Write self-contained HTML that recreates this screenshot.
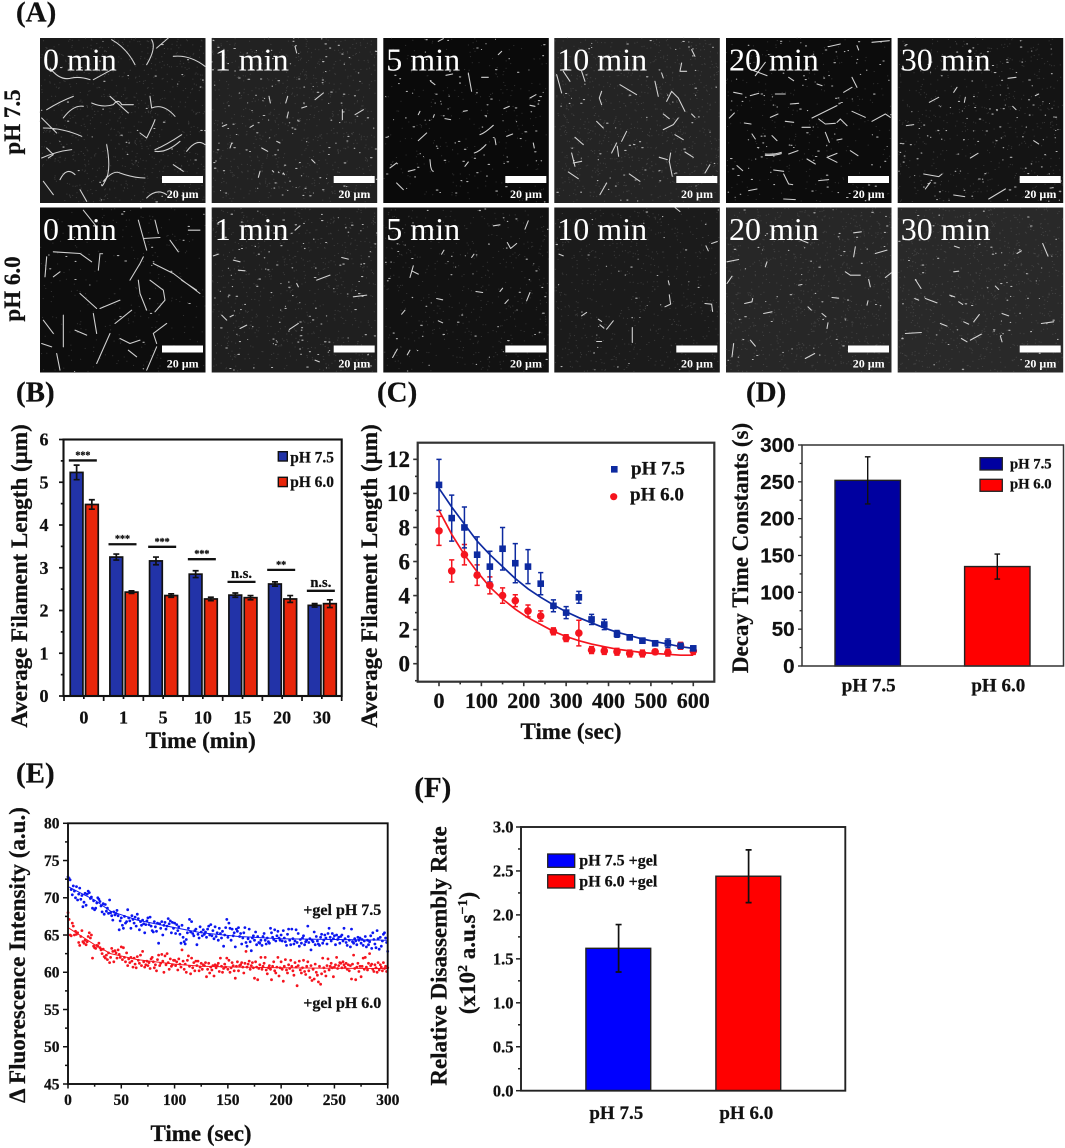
<!DOCTYPE html>
<html lang="en">
<head>
<meta charset="utf-8">
<title>Filament disassembly figure</title>
<style>
html,body{margin:0;padding:0;background:#fff;width:1065px;height:1148px;overflow:hidden}
svg{display:block;filter:blur(.35px)}
text{font-family:"Liberation Serif","DejaVu Serif",serif;font-weight:700;fill:#111;stroke:#111;stroke-width:.25px}
.letter{font-size:29px}
.title{font-size:23px}
.tl{font-size:32px;font-weight:400;fill:#fff;stroke:none}
.sb{font-size:12px;fill:#fff;stroke:none;text-anchor:middle}
.fil{fill:none;stroke:#e8e8e8;stroke-width:3.2;stroke-linecap:round;stroke-linejoin:round;stroke-opacity:.9}
</style>
</head>
<body>
<svg id="fig" xmlns="http://www.w3.org/2000/svg" width="1065" height="1148" viewBox="0 0 1065 1148">
<rect width="1065" height="1148" fill="#fff"/>

<text class="letter" x="16" y="21.5">(A)</text>
<text class="letter" x="16" y="401.5">(B)</text>
<text class="letter" x="377" y="401.5">(C)</text>
<text class="letter" x="746" y="401.5">(D)</text>
<text class="letter" x="16" y="782.7">(E)</text>
<text class="letter" x="414.3" y="797">(F)</text>

<text font-size="23" text-anchor="middle" transform="translate(20,122) rotate(-90)">pH 7.5</text>
<text font-size="23" text-anchor="middle" transform="translate(20,289) rotate(-90)">pH 6.0</text>

<!-- Micrographs, row 1 -->
<g class="mg" data-bg="#1a1a1a" data-bright="45" data-noise="750" transform="translate(40,38)">
<path class="fil" transform="scale(.3333)" d="M215 5Q260 30 285 80M335 5Q350 30 320 80M385 0L350 30M400 55Q450 50 495 85M30 90Q60 130 95 120Q120 115 150 125M160 125L215 95M20 215Q60 190 100 175M10 270Q70 270 125 295M70 240Q100 200 130 205M155 195Q190 210 220 200Q235 180 245 200L280 200M210 175L265 225M330 175L335 210Q370 195 405 235M300 285L320 300Q340 260 345 245M345 335Q380 320 425 290M345 340Q380 345 420 310M200 320Q215 400 195 430Q185 450 185 440M190 430Q220 395 240 405Q280 420 315 420M60 425Q80 385 105 410M5 360Q50 340 95 335M20 330L40 350L25 360M400 380L430 400M10 430L40 470M320 480Q350 450 380 470M440 340Q470 300 495 320M120 455L140 490M5 240L50 285"/>
<text class="tl" x="3" y="32.7">0 min</text><rect x="122" y="138" width="41" height="7" fill="#fff"/><text class="sb" x="142.7" y="160">20 µm</text></g>
<g class="mg" data-bg="#222222" data-bright="130" data-noise="700" transform="translate(211.7,38)">
<path class="fil" transform="scale(.3333)" d="M172 175L176 195M222 195L228 175M226 240L230 222M310 185L335 165M392 245L392 215M430 230L455 215M150 330L168 340M195 310L205 315M55 330L60 315M140 418L145 400M32 265L45 260M115 268L125 262M270 210L285 205M300 365L310 375M250 25L255 45M182 398l4 4M200 402l2 2M215 405l3 5"/>
<text class="tl" x="3" y="32.7">1 min</text><rect x="122" y="138" width="41" height="7" fill="#fff"/><text class="sb" x="142.7" y="160">20 µm</text></g>
<g class="mg" data-bg="#0a0a0a" data-bright="95" data-noise="250" transform="translate(383.3,38)">
<path class="fil" transform="scale(.3333)" d="M255 105L265 160M290 290Q305 285 330 262M273 345Q290 340 308 320M105 308L130 285M188 112L208 108M295 118L315 118M370 295L388 288M362 212L378 205M440 180L458 170M440 202L455 205M105 230L110 220M150 238L153 230M240 220L252 218M185 242L202 245M140 365L142 385Q145 400 150 400M20 390L40 375M75 400L95 395M245 385L255 372M40 435L60 455M335 302L338 320M450 315L453 330M142 130L155 140M345 50L355 40M165 10L180 2"/>
<text class="tl" x="3" y="32.7">5 min</text><rect x="122" y="138" width="41" height="7" fill="#fff"/><text class="sb" x="142.7" y="160">20 µm</text></g>
<g class="mg" data-bg="#242424" data-bright="70" data-noise="800" transform="translate(554.3,38)">
<path class="fil" transform="scale(.3333)" d="M197 140L247 170M142 160L135 180L142 200M7 110L22 165M27 100L47 130M82 100L92 130M302 130L312 175M337 190L352 160L372 180L392 220M327 275L357 260L372 240M327 228L345 242M362 290L387 305M127 250L147 270M217 280L202 310M187 315L172 345M189 325L193 355M349 345L345 370L354 415M315 358L339 365M392 342L417 358M52 345L62 385M57 375L82 370M42 402L72 422M225 408L257 430M157 435L137 470M62 298L87 320M382 75L377 100L397 100M412 35L422 55M322 105L327 120M467 380L452 405M412 228L422 238"/>
<text class="tl" x="3" y="32.7">10 min</text><rect x="122" y="138" width="41" height="7" fill="#fff"/><text class="sb" x="142.7" y="160">20 µm</text></g>
<g class="mg" data-bg="#0c0c0c" data-bright="100" data-noise="250" transform="translate(726,38)">
<path class="fil" transform="scale(.3333)" d="M308 26L343 18M88 113L118 73M83 98L123 113M23 163L48 168M73 173L98 166M148 168L178 168M193 198L218 196M258 240L333 203M278 243L298 258L328 256M333 253L343 243L363 263M378 220L418 238M438 250L478 228L493 238M118 348Q145 350 166 343M118 352Q145 354 166 347M188 348L216 338M333 346L303 358L333 373M243 363L268 378M173 408L188 438L200 440M143 396L173 400M278 428L308 425M373 338L396 353M298 283L310 313M333 306L348 303M138 293L153 308M78 288L88 303M33 383L50 398M68 458L93 453M173 483L208 485M378 118L393 148M353 163L378 148M188 118L203 128M273 138L288 143M178 250L203 253M133 238L156 228M228 268L253 268M438 13L490 8M393 23L398 36M55 255L75 258M10 240L25 225"/>
<text class="tl" x="3" y="32.7">20 min</text><rect x="122" y="138" width="41" height="7" fill="#fff"/><text class="sb" x="142.7" y="160">20 µm</text></g>
<g class="mg" data-bg="#141414" data-bright="130" data-noise="500" transform="translate(897.7,38)">
<path class="fil" transform="scale(.3333)" d="M95 193L123 178M168 163L178 148M200 193L203 178M331 121L355 118M26 263L48 260M78 408L123 416L133 408M83 453L98 433M273 483L323 453M168 471L201 476M218 360L241 346M408 308L423 318M413 173L423 168M345 205L355 215"/>
<text class="tl" x="3" y="32.7">30 min</text><rect x="122" y="138" width="41" height="7" fill="#fff"/><text class="sb" x="142.7" y="160">20 µm</text></g>

<!-- Micrographs, row 2 -->
<g class="mg" data-bg="#0d0d0d" data-bright="30" data-noise="250" transform="translate(40,207.5)">
<path class="fil" transform="scale(.3333)" d="M295 38L320 128M310 93L360 90M340 168L400 198L480 258M425 218L470 248M270 218L300 168L310 148M295 218L300 258L320 308M330 218L370 248L375 278L345 313M225 348L275 308M160 318L170 378M180 303L240 278M120 258L170 303M180 138L175 188M40 133L120 138L155 163M20 148L15 208M70 323L70 418M40 208L60 193M170 468L210 378M105 368L140 383M240 393L270 408L300 398M265 428L290 448M350 408L340 378L380 348M350 418L320 488M445 68L480 68M390 98L415 133M345 38L355 78M130 8L170 58M50 438L60 488M35 418L5 408M10 338L40 378"/>
<text class="tl" x="3" y="32.7">0 min</text><rect x="122" y="138" width="41" height="7" fill="#fff"/><text class="sb" x="142.7" y="160">20 µm</text></g>
<g class="mg" data-bg="#1f1f1f" data-bright="130" data-noise="650" transform="translate(211.7,207.5)">
<path class="fil" transform="scale(.3333)" d="M315 218L355 203M425 268L465 263M233 366L260 348M65 158L85 163M80 188L100 190M30 323L45 338M55 328L65 323M85 363L105 353M310 458L323 463M255 228L260 238M390 150L410 155M250 68L265 55M20 140L5 145"/>
<text class="tl" x="3" y="32.7">1 min</text><rect x="122" y="138" width="41" height="7" fill="#fff"/><text class="sb" x="142.7" y="160">20 µm</text></g>
<g class="mg" data-bg="#121212" data-bright="60" data-noise="450" transform="translate(383.3,207.5)">
<path class="fil" transform="scale(.3333)" d="M372 105L382 123L400 108M90 175L80 210M85 190L105 200M278 252L298 255M430 280L440 255M160 273L178 277M350 252L358 242M165 340L178 346M28 450L42 425M72 442L80 428M55 320L65 308M175 140L182 128M265 150L272 140M425 65L435 40M365 288L375 277M330 55L350 52"/>
<text class="tl" x="3" y="32.7">5 min</text><rect x="122" y="138" width="41" height="7" fill="#fff"/><text class="sb" x="142.7" y="160">20 µm</text></g>
<g class="mg" data-bg="#1b1b1b" data-bright="35" data-noise="600" transform="translate(554.3,207.5)">
<path class="fil" transform="scale(.3333)" d="M234 360L234 405M157 365L177 340M132 335L142 342M137 352L149 362M82 325L97 315M127 402L142 402M345 262L349 290L332 298M452 288L472 290L475 312M472 108L489 102M455 115L462 130M14 140L27 145M342 220L345 232M362 0L377 12"/>
<text class="tl" x="3" y="32.7">10 min</text><rect x="122" y="138" width="41" height="7" fill="#fff"/><text class="sb" x="142.7" y="160">20 µm</text></g>
<g class="mg" data-bg="#272727" data-bright="55" data-noise="850" transform="translate(726,207.5)">
<path class="fil" transform="scale(.3333)" d="M3 163L38 156M56 288L78 283L80 273M113 318L138 313M383 148L388 118M448 138L483 128M358 193L373 203L403 203M428 216L433 238M478 210L496 196M118 178L123 163M383 76L406 73M213 93L246 106M3 228L18 206M246 298L256 308M303 363L306 346M318 270L338 272M423 293L426 280M18 448L23 408M73 398L88 416M238 453L266 438M218 233L228 231M288 318L300 328"/>
<text class="tl" x="3" y="32.7">20 min</text><rect x="122" y="138" width="41" height="7" fill="#fff"/><text class="sb" x="142.7" y="160">20 µm</text></g>
<g class="mg" data-bg="#292929" data-bright="60" data-noise="850" transform="translate(897.7,207.5)">
<path class="fil" transform="scale(.3333)" d="M435 108L451 146M228 343L245 321M218 398L251 380M191 393L208 403M23 378L71 375M128 348L148 356M53 216L70 243M83 273L118 286M156 263L171 268M183 283L195 291M51 273L63 278M431 348L468 343M313 318L333 325M308 386L313 403M358 138L371 130M170 116L185 121M168 193L183 191M293 236L303 246M198 343L213 350"/>
<text class="tl" x="3" y="32.7">30 min</text><rect x="122" y="138" width="41" height="7" fill="#fff"/><text class="sb" x="142.7" y="160">20 µm</text></g>

<!-- Panel B static text -->
<g id="chart-b">
<text class="title" text-anchor="middle" transform="translate(27,576) rotate(-90)">Average Filament Length (µm)</text>
<text class="title" text-anchor="middle" x="200.7" y="748">Time (min)</text>
<rect x="278.3" y="451.7" width="9" height="9.3" fill="#2233a8" stroke="#111" stroke-width="1.4"/>
<rect x="278.3" y="477.3" width="9" height="9.3" fill="#e8260a" stroke="#111" stroke-width="1.4"/>
<text font-size="15.4" x="290.3" y="462.3">pH 7.5</text>
<text font-size="15.4" x="290.3" y="487">pH 6.0</text>
</g>

<!-- Panel C static text -->
<g id="chart-c">
<text class="title" text-anchor="middle" transform="translate(377,576) rotate(-90)">Average Filament Length (µm)</text>
<text class="title" text-anchor="middle" x="571" y="739">Time (sec)</text>
<rect x="611" y="466" width="6.6" height="6.6" fill="#0d2aa0"/>
<circle cx="613.7" cy="496.7" r="3.6" fill="#f5141e"/>
<text font-size="19" x="631" y="474.3">pH 7.5</text>
<text font-size="19" x="630" y="500.7">pH 6.0</text>
</g>

<!-- Panel D static text -->
<g id="chart-d">
<text class="title" text-anchor="middle" transform="translate(748,548) rotate(-90)">Decay Time Constants (s)</text>
<rect x="980" y="457.7" width="22.3" height="12.3" fill="#0000a0" stroke="#222" stroke-width="1.3"/>
<rect x="980" y="479.3" width="22.3" height="12" fill="#ff0000" stroke="#222" stroke-width="1.3"/>
<text font-size="14.7" x="1010" y="468.3">pH 7.5</text>
<text font-size="14.7" x="1010" y="488.3">pH 6.0</text>
</g>

<!-- Panel E static text -->
<g id="chart-e">
<text class="title" text-anchor="middle" transform="translate(25,955) rotate(-90)">Δ Fluorescence Intensity (a.u.)</text>
<text class="title" text-anchor="middle" x="201" y="1141">Time (sec)</text>
<text font-size="16" x="303.3" y="915">+gel pH 7.5</text>
<text font-size="16" x="303.3" y="1008">+gel pH 6.0</text>
</g>

<!-- Panel F static text -->
<g id="chart-f">
<text class="title" text-anchor="middle" transform="translate(446.7,956) rotate(-90)">Relative Disassembly Rate</text>
<text class="title" text-anchor="middle" transform="translate(475,953) rotate(-90)">(x10<tspan font-size="14" dy="-8">2</tspan><tspan dy="8"> a.u.s</tspan><tspan font-size="14" dy="-8">−1</tspan><tspan dy="8">)</tspan></text>
<rect x="547.7" y="854" width="27" height="13.3" fill="#0000ff" stroke="#222" stroke-width="1.3"/>
<rect x="547.7" y="874.7" width="27" height="13.3" fill="#ff0000" stroke="#222" stroke-width="1.3"/>
<text font-size="16" x="579.3" y="865.7">pH 7.5 +gel</text>
<text font-size="16" x="579.3" y="886.7">pH 6.0 +gel</text>
</g>
</svg>

<script>
/* ---------- Panel B data ---------- */
const bCategories = ['0','1','5','10','15','20','30'];
const bBlue = [5.23,3.25,3.16,2.85,2.36,2.62,2.12];
const bRed = [4.48,2.43,2.35,2.27,2.30,2.27,2.16];
const bBlueErr = [0.17,0.07,0.09,0.08,0.05,0.05,0.04];
const bRedErr = [0.11,0.03,0.04,0.04,0.05,0.08,0.09];
const bSigHeights = [5.51,3.55,3.49,3.20,2.67,2.95,2.46];
const bSigLabels = ['***','***','***','***','n.s.','**','n.s.'];
const bYTicks = ['0','1','2','3','4','5','6'];
const bYMinor = [0.5,1.5,2.5,3.5,4.5,5.5];

/* ---------- Panel C data ---------- */
const cTimes = [0,30,60,90,120,150,180,210,240,270,300,330,360,390,420,450,480,510,540,570,600];
const cBlue = [10.5,8.55,8.0,6.4,5.7,6.75,5.9,5.7,4.7,3.4,3.0,3.9,2.6,2.3,1.75,1.55,1.35,1.2,1.2,1.05,0.9];
const cBlueErr = [1.5,1.35,1.2,1.05,0.9,1.25,1.15,1.0,0.65,0.35,0.35,0.35,0.3,0.3,0.2,0.15,0.15,0.15,0.25,0.1,0.15];
const cRed = [7.8,5.45,6.4,5.2,4.6,4.0,3.7,3.1,2.8,1.9,1.5,1.8,0.8,0.75,0.7,0.6,0.6,0.7,0.65,1.05,0.75];
const cRedErr = [0.85,0.65,0.6,0.6,0.5,0.45,0.35,0.35,0.3,0.2,0.2,0.75,0.2,0.2,0.2,0.2,0.2,0.15,0.2,0.2,0.2];
const cBlueFit = [10.3,9.2,8.2,7.2,6.4,5.7,5.0,4.4,3.9,3.45,3.05,2.7,2.4,2.1,1.85,1.65,1.45,1.3,1.15,1.0,0.9];
const cRedFit = [9.0,7.6,6.4,5.4,4.5,3.8,3.2,2.7,2.3,1.9,1.6,1.35,1.15,1.0,0.85,0.75,0.65,0.6,0.55,0.5,0.5];
const cYTicks = ['0','2','4','6','8','10','12'];
const cYMinor = [-1,1,3,5,7,9,11];
const cXTicks = ['0','100','200','300','400','500','600'];
const cXMinor = [50,150,250,350,450,550];

/* ---------- Panel D data ---------- */
const dLabels = ['pH 7.5','pH 6.0'];
const dValues = [252,135];
const dErrors = [32,17];
const dYTicks = ['0','50','100','150','200','250','300'];
const dYMinor = [25,75,125,175,225,275];

/* ---------- Panel E data ---------- */
const eBlue = [72.8,72.6,72.4,71.1,70.4,71.6,70.9,70.0,71.5,69.7,70.5,71.3,69.8,70.3,68.8,69.4,70.6,69.0,70.5,70.9,70.7,69.9,70.1,68.6,69.6,
68.4,68.6,69.3,70.0,69.8,69.5,68.9,68.1,69.2,67.8,69.1,68.2,68.6,67.9,69.7,68.0,67.6,67.0,68.1,67.7,67.9,68.3,67.6,65.7,66.9,
67.3,66.3,65.9,67.5,66.6,66.8,68.4,67.3,66.9,65.9,67.6,67.1,66.6,67.4,66.2,67.8,67.2,65.7,66.8,66.3,67.0,66.5,65.3,66.4,66.9,
67.3,66.4,67.4,66.2,65.6,65.4,66.8,66.1,65.5,66.6,63.9,66.5,65.9,66.8,65.0,66.3,66.7,65.8,66.2,67.2,66.5,66.9,65.3,66.7,65.9,
66.6,65.2,66.4,65.6,66.1,65.1,63.9,66.3,64.7,64.1,63.8,64.4,65.3,65.9,67.1,65.4,66.8,65.2,64.9,65.6,65.8,63.7,65.1,64.6,66.1,
65.4,64.9,65.7,65.1,65.4,64.7,65.8,66.2,65.0,66.4,64.9,65.6,64.5,66.1,64.8,65.3,64.3,65.9,65.2,64.6,65.5,63.5,65.0,66.0,67.1,
64.7,66.6,65.9,64.3,65.8,64.9,65.3,63.4,65.8,65.5,66.0,64.8,65.2,63.8,64.6,65.3,66.0,64.0,63.5,64.5,65.8,64.1,62.9,64.6,64.9,
64.3,65.4,63.7,64.8,64.0,63.9,64.3,63.6,64.8,65.2,64.3,63.8,64.6,64.1,63.9,65.9,65.3,64.7,64.4,65.7,64.2,64.9,65.5,64.6,64.3,
65.0,64.2,65.6,64.6,64.1,63.6,65.1,65.8,64.3,63.7,65.8,64.5,63.8,64.2,65.7,64.0,65.2,63.5,64.4,63.9,64.6,64.9,63.7,64.1,64.3,
66.2,64.0,64.5,63.0,64.3,64.1,65.4,63.7,64.8,64.2,63.8,63.6,64.7,65.1,63.9,64.3,65.0,64.6,63.8,65.2,65.9,64.7,64.2,65.2,64.5,
64.9,63.7,65.0,64.4,64.7,63.9,64.8,65.0,64.2,65.9,64.5,64.0,63.6,64.8,64.3,63.4,65.8,64.1,63.9,64.5,64.2,63.7,64.7,64.3,64.6,
63.9,64.4,63.6,64.2,64.8,63.4,64.3,63.7,64.1,64.9,63.2,65.3,64.4,63.8,63.3,65.6,64.5,63.1,64.7,63.5,64.2,65.1,65.3,64.6,64.0,62.8];
const eRed = [68.0,67.1,65.0,64.9,66.6,66.2,65.0,65.5,65.1,65.3,64.0,63.6,64.8,65.6,64.1,63.9,64.3,63.7,64.1,64.8,65.3,64.6,65.0,61.9,63.5,
63.3,63.2,63.6,63.5,63.9,63.3,63.0,62.5,63.1,62.1,61.9,62.3,61.7,62.6,61.3,62.0,63.2,62.8,61.4,62.9,62.6,61.9,63.0,62.4,62.0,
63.4,61.7,63.3,62.0,61.4,62.6,60.9,61.8,61.3,62.0,61.5,60.7,61.9,61.1,60.6,62.1,61.6,61.2,62.3,60.9,62.8,61.4,60.7,61.0,61.5,
60.9,61.3,60.5,61.8,62.0,61.4,60.6,61.0,60.2,61.7,62.3,60.9,61.2,62.4,61.5,60.0,62.2,61.0,62.5,61.3,60.4,61.8,60.8,61.0,61.6,
61.6,60.9,61.4,60.3,61.8,61.1,60.7,63.0,61.5,60.4,61.1,60.0,61.6,62.2,60.8,59.8,61.9,60.6,61.3,60.2,61.5,60.9,61.5,60.2,60.7,
61.2,60.4,61.0,60.9,61.3,59.4,60.4,61.2,59.9,60.7,60.3,60.9,59.5,61.0,60.6,60.9,61.2,60.1,61.9,60.8,60.0,60.5,61.1,60.7,61.9,
60.4,61.6,60.0,60.6,61.3,60.9,60.2,59.2,60.8,61.4,60.2,60.9,61.0,61.3,60.7,59.9,61.2,62.8,60.7,61.1,61.5,60.4,60.9,61.3,60.6,
59.2,61.4,60.7,59.0,60.5,61.0,62.0,60.4,60.8,61.2,62.0,60.3,59.8,60.6,60.9,60.4,59.0,60.8,61.4,60.2,59.9,60.7,62.0,59.5,60.6,
61.4,60.4,58.8,60.8,61.7,60.3,59.9,61.0,60.5,61.6,60.8,60.2,59.6,61.3,60.7,58.2,60.9,61.5,60.3,59.9,60.6,61.6,60.1,59.7,60.8,
61.4,60.2,59.3,60.9,58.9,60.4,59.1,61.1,60.0,59.6,58.7,60.8,58.4,59.8,61.9,60.6,60.1,59.5,60.9,61.8,60.3,60.8,61.2,60.6,59.4,
60.7,61.0,62.0,60.5,60.9,61.3,61.2,60.6,61.4,61.0,60.7,61.2,60.4,61.0,60.2,60.9,59.1,61.1,62.3,60.5,59.0,60.7,61.2,60.1,60.8,
59.4,60.8,61.9,60.4,62.0,60.7,60.3,61.2,62.5,60.9,61.1,60.4,60.1,61.0,60.6,60.0,61.3,60.3,61.0,60.7,60.2,61.3,60.5,60.8,60.1,60.6];
const eFitTimes = [0,25,40,65,100,125,160,200,250,300];
const eBlueFit = [71.5,69.7,68.2,67.0,66.0,65.3,64.8,64.5,64.4,64.3];
const eRedFit = [66.0,63.7,62.5,61.7,61.1,60.8,60.7,60.6,60.55,60.5];
const eYTicks = ['45','50','55','60','65','70','75','80'];
const eYMinor = [47.5,52.5,57.5,62.5,67.5,72.5,77.5];
const eXTicks = ['0','50','100','150','200','250','300'];
const eXMinor = [25,75,125,175,225,275];

/* ---------- Panel F data ---------- */
const fLabels = ['pH 7.5','pH 6.0'];
const fValues = [1.62,2.44];
const fErrors = [0.27,0.30];
const fYTicks = ['0.0','0.5','1.0','1.5','2.0','2.5','3.0'];
const fYMinor = [0.25,0.75,1.25,1.75,2.25,2.75];

/* ---------- Axis scales ---------- */
const xB = i => 64 + 39.67 * (i + 0.5);
const yB = v => 696 - v * 42.75;
const xC = t => 439 + t * 0.4238;
const yC = v => 663.7 - v * 17.03;
const xD = i => 867.7 + i * 129.6;
const yD = v => 666 - v * 0.7367;
const xE = t => 68 + t * 1.0657;
const yE = v => 1084 - (v - 45) * 7.449;
const xF = i => 618.3 + i * 130;
const yF = v => 1090.7 - v * 87.9;

const NS = 'http://www.w3.org/2000/svg';
function mk(parent, tag, attrs, content) {
  const el = document.createElementNS(NS, tag);
  for (const k in attrs) el.setAttribute(k, attrs[k]);
  if (content !== undefined) el.textContent = content;
  parent.appendChild(el);
  return el;
}
function tickMark(g, x1, y1, x2, y2, color, w) {
  const t = mk(g, 'line', {x1, y1, x2, y2, stroke: color, 'stroke-width': w});
  
  
}
function tickText(g, x, y, anchor, size, family, label) {
  const t = mk(g, 'text', {x, y, 'text-anchor': anchor, 'font-size': size, style: 'font-family:' + family}, label);
  
  
}
function frame(g, x, y, w, h, color, sw) {
  const r = mk(g, 'rect', {x, y, width: w, height: h, fill: 'none', stroke: color, 'stroke-width': sw});
  
  
}
function yAxis(g, scale, axisX, labels, minors, o) {
  const fam = o.family || '"Liberation Serif",serif';
  labels.forEach(l => {
    const y = scale(Number(l));
    tickMark(g, axisX, y, axisX - o.len, y, o.color, o.w);
    tickText(g, o.labelX, y + o.size * 0.34, 'end', o.size, fam, l);
  });
  minors.forEach(v => tickMark(g, axisX, scale(v), axisX - o.len * 0.6, scale(v), o.color, o.w));
}
function xAxis(g, scale, axisY, labels, minors, o) {
  labels.forEach(l => {
    const x = scale(Number(l));
    tickMark(g, x, axisY, x, axisY + o.len, o.color, o.w);
    tickText(g, x, o.labelY, 'middle', o.size, '"Liberation Serif",serif', l);
  });
  minors.forEach(v => tickMark(g, scale(v), axisY, scale(v), axisY + o.len * 0.6, o.color, o.w));
}
function errorBar(g, x, y1, y2, cap, color, w) {
  const e = mk(g, 'path', {d: `M${x} ${y1}V${y2}M${x - cap} ${y1}h${2 * cap}M${x - cap} ${y2}h${2 * cap}`, fill: 'none', stroke: color, 'stroke-width': w});
  
  
}
function bar(g, x, width, yTop, yBase, fill, stroke, sw, name) {
  const b = mk(g, 'rect', {x, y: yTop, width, height: yBase - yTop, fill, stroke, 'stroke-width': sw});
  
  
}

/* ---------- Chart B ---------- */
(function () {
  const g = document.getElementById('chart-b');
  bCategories.forEach((c, i) => {
    const cx = xB(i);
    bar(g, cx - 13.6, 12.7, yB(bBlue[i]), yB(0), '#2233a8', '#111', 1.7, 'bar-ph75-' + c + 'min');
    bar(g, cx + 1.7, 12.7, yB(bRed[i]), yB(0), '#e8260a', '#111', 1.7, 'bar-ph60-' + c + 'min');
    errorBar(g, cx - 7.2, yB(bBlue[i] + bBlueErr[i]), yB(bBlue[i] - bBlueErr[i]), 3, '#111', 1.7);
    errorBar(g, cx + 8, yB(bRed[i] + bRedErr[i]), yB(bRed[i] - bRedErr[i]), 3, '#111', 1.7);
    const s = mk(g, 'line', {x1: cx - 15, x2: cx + 13, y1: yB(bSigHeights[i]), y2: yB(bSigHeights[i]), stroke: '#111', 'stroke-width': 2.3});
    
    
    const isNs = bSigLabels[i] === 'n.s.';
    const t = mk(g, 'text', {x: cx - 1, y: yB(bSigHeights[i]) - (isNs ? 4 : 2), 'text-anchor': 'middle', 'font-size': isNs ? 14.5 : 10}, bSigLabels[i]);
    
    
    tickText(g, cx, 723.3, 'middle', 18, '"Liberation Serif",serif', c);
    tickMark(g, cx, yB(0), cx, yB(0) + 3, '#111', 1.7);
    tickMark(g, cx - 19.83, yB(0), cx - 19.83, yB(0) + 5, '#111', 1.7);
  });
  tickMark(g, 341.7, yB(0), 341.7, yB(0) + 5, '#111', 1.7);
  yAxis(g, yB, 63.5, bYTicks, bYMinor, {len: 4.5, color: '#111', w: 1.7, size: 18, labelX: 48.5});
  frame(g, 63.5, 439.5, 278.2, 256.5, '#111', 2.1);
})();

/* ---------- Chart C ---------- */
(function () {
  const g = document.getElementById('chart-c');
  const fitPath = vals => vals.map((v, i) => (i ? 'L' : 'M') + xC(cTimes[i]).toFixed(1) + ' ' + yC(v).toFixed(1)).join('');
  cTimes.forEach((t, i) => {
    errorBar(g, xC(t), yC(cRed[i] + cRedErr[i]), yC(cRed[i] - cRedErr[i]), 2.6, '#f5141e', 1.5);
  });
  cTimes.forEach((t, i) => {
    errorBar(g, xC(t), yC(cBlue[i] + cBlueErr[i]), yC(cBlue[i] - cBlueErr[i]), 2.6, '#0d2aa0', 1.5);
  });
  const fb = mk(g, 'path', {d: fitPath(cBlueFit), fill: 'none', stroke: '#0d2aa0', 'stroke-width': 1.7});
  
  
  const fr = mk(g, 'path', {d: fitPath(cRedFit), fill: 'none', stroke: '#f5141e', 'stroke-width': 1.7});
  
  
  cTimes.forEach((t, i) => {
    const c = mk(g, 'circle', {cx: xC(t), cy: yC(cRed[i]), r: 3.8, fill: '#f5141e'});
    
    
  });
  cTimes.forEach((t, i) => {
    const s = mk(g, 'rect', {x: xC(t) - 3.3, y: yC(cBlue[i]) - 3.3, width: 6.6, height: 6.6, fill: '#0d2aa0'});
    
    
  });
  yAxis(g, yC, 417.7, cYTicks, cYMinor, {len: 4.5, color: '#333', w: 1.6, size: 23, labelX: 410});
  xAxis(g, xC, 681.7, cXTicks, cXMinor, {len: 4.5, color: '#333', w: 1.6, size: 22, labelY: 708});
  frame(g, 417.7, 442.7, 296.6, 239, '#333', 2.2);
})();

/* ---------- Chart D ---------- */
(function () {
  const g = document.getElementById('chart-d');
  const fills = ['#0000a0', '#ff0000'];
  dValues.forEach((v, i) => {
    bar(g, xD(i) - 32.7, 65.4, yD(v), yD(0), fills[i], '#222', 1.4, 'bar-' + dLabels[i].replace(/[ .]/g, '').toLowerCase());
    errorBar(g, xD(i), yD(v + dErrors[i]), yD(v - dErrors[i]), 2.8, '#111', 1.4);
    tickText(g, xD(i) + 1, 691.7, 'middle', 19, '"Liberation Serif",serif', dLabels[i]);
  });
  yAxis(g, yD, 802, dYTicks, dYMinor, {len: 4, color: '#222', w: 1.3, size: 20.5, labelX: 794.5, family: '"Liberation Sans",sans-serif'});
  frame(g, 802, 445, 261.5, 221, '#333', 1.5);
})();

/* ---------- Chart E ---------- */
(function () {
  const g = document.getElementById('chart-e');
  const dots = (vals, color, name) => {
    const s = mk(g, 'g', {fill: color});
    
    
    vals.forEach((v, t) => {
      const p = mk(s, 'circle', {cx: xE(t).toFixed(1), cy: yE(v).toFixed(1), r: 1.4});
      
      
    });
  };
  dots(eBlue, '#0b16f0', 'series-ph75-points');
  dots(eRed, '#f5141e', 'series-ph60-points');
  const fit = vals => vals.map((v, i) => (i ? 'L' : 'M') + xE(eFitTimes[i]).toFixed(1) + ' ' + yE(v).toFixed(1)).join('');
  const a = mk(g, 'path', {d: fit(eBlueFit), fill: 'none', stroke: '#0b16f0', 'stroke-width': 1});
  
  
  const b = mk(g, 'path', {d: fit(eRedFit), fill: 'none', stroke: '#f5141e', 'stroke-width': 1});
  
  
  yAxis(g, yE, 68, eYTicks, eYMinor, {len: 5, color: '#111', w: 1.5, size: 15.5, labelX: 59.5});
  xAxis(g, xE, 1084, eXTicks, eXMinor, {len: 4.5, color: '#111', w: 1.5, size: 15.5, labelY: 1105});
  frame(g, 68, 823.3, 319.7, 260.7, '#111', 1.9);
})();

/* ---------- Chart F ---------- */
(function () {
  const g = document.getElementById('chart-f');
  const fills = ['#0000ff', '#ff0000'];
  fValues.forEach((v, i) => {
    bar(g, xF(i) - 32.4, 64.8, yF(v), yF(0), fills[i], '#222', 1.4, 'bar-' + fLabels[i].replace(/[ .]/g, '').toLowerCase());
    errorBar(g, xF(i) + 0.3, yF(v + fErrors[i]), yF(v - fErrors[i]), 3, '#111', 1.7);
    tickText(g, xF(i) - 2, 1119, 'middle', 19, '"Liberation Serif",serif', fLabels[i]);
  });
  yAxis(g, yF, 521, fYTicks, fYMinor, {len: 5, color: '#222', w: 1.5, size: 16.5, labelX: 513.5});
  frame(g, 521, 827, 324.3, 263.7, '#222', 1.9);
})();

/* ---------- Micrograph texture (image grain, not chart data) ---------- */
(function () {
  let seed = 12345;
  const rnd = () => (seed = (seed * 1664525 + 1013904223) % 4294967296) / 4294967296;
  document.querySelectorAll('.mg').forEach(p => {
    const first = p.firstElementChild;
    const bgEl = document.createElementNS(NS, 'rect');
    bgEl.setAttribute('width', 165.5);
    bgEl.setAttribute('height', 165);
    bgEl.setAttribute('fill', p.getAttribute('data-bg'));
    
    
    p.insertBefore(bgEl, first);
    let dim = '';
    for (let i = 0, n = +p.getAttribute('data-noise'); i < n; i++) {
      dim += 'M' + (rnd() * 165).toFixed(1) + ' ' + (rnd() * 164).toFixed(1) + 'h.2';
    }
    let bright = '';
    for (let i = 0, n = +p.getAttribute('data-bright'); i < n; i++) {
      bright += 'M' + (rnd() * 165).toFixed(1) + ' ' + (rnd() * 164).toFixed(1) + 'h' + (rnd() * 1.6).toFixed(1);
    }
    const d1 = document.createElementNS(NS, 'path');
    d1.setAttribute('d', dim);
    d1.setAttribute('stroke', '#6a6a6a');
    d1.setAttribute('stroke-opacity', '.45');
    d1.setAttribute('stroke-width', '1');
    d1.setAttribute('stroke-linecap', 'round');
    
    
    p.insertBefore(d1, first);
    const d2 = document.createElementNS(NS, 'path');
    d2.setAttribute('d', bright);
    d2.setAttribute('stroke', '#dcdcdc');
    d2.setAttribute('stroke-opacity', '.8');
    d2.setAttribute('stroke-width', '1.1');
    d2.setAttribute('stroke-linecap', 'round');
    
    
    p.insertBefore(d2, first);
  });
})();
</script>
</body>
</html>
